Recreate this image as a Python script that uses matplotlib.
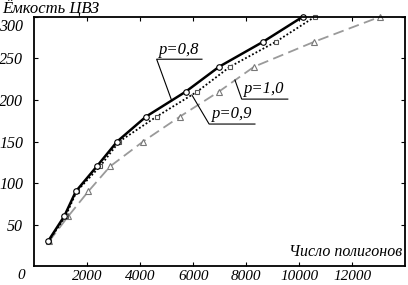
import numpy as np
import matplotlib
matplotlib.use("Agg")
import matplotlib.pyplot as plt
import matplotlib.transforms as mtransforms

# Ёмкость ЦВЗ (общая для всех кривых)
capacity = [30, 60, 90, 120, 150, 180, 210, 240, 270, 300]
# Число полигонов для разных p
poly_p08 = [520, 1130, 1570, 2360, 3130, 4220, 5720, 6980, 8640, 10130]
poly_p09 = [540, 1180, 1600, 2480, 3210, 4620, 6150, 7390, 9120, 10590]
poly_p10 = [560, 1280, 2040, 2860, 4110, 5500, 6970, 8300, 10570, 13050]

xticks = [2000, 4000, 6000, 8000, 10000, 12000]
yticks = [50, 100, 150, 200, 250, 300]

plt.rcParams['font.family'] = ['Liberation Serif', 'DejaVu Serif']
plt.rcParams['font.style'] = 'italic'

fig = plt.figure(figsize=(4.08, 2.85), dpi=100)
ax = fig.add_axes([0.084, 0.066, 0.909, 0.875])

ax.plot(poly_p10, capacity, color='#9a9a9a', lw=1.3, dashes=(6, 3),
        marker='^', ms=4, mfc='white', mec='#777777', mew=0.8, clip_on=False)
ax.plot(poly_p09, capacity, color='black', lw=1.3, dashes=(1, 1.2),
        marker='s', ms=3.5, mfc='white', mec='#555555', mew=0.8, clip_on=False)
ax.plot(poly_p08, capacity, color='black', lw=1.8,
        marker='o', ms=4, mfc='white', mec='black', mew=0.8, clip_on=False)

ax.set_xlim(0, 14000)
ax.set_ylim(0, 300)
ax.set_xticks(xticks)
ax.set_yticks(yticks)
ax.tick_params(direction='in', length=3, width=0.8, top=True, right=True,
               labelsize=11.5)
ax.tick_params(axis='x', pad=2.5, labelsize=11)
ax.tick_params(axis='y', pad=8)
for s in ax.spines.values():
    s.set_linewidth(1.3)

# метка 300 сдвинута вниз, чтобы не налезать на подпись оси
fig.canvas.draw()
lab300 = ax.get_yticklabels()[-1]
lab300.set_transform(lab300.get_transform() +
                     mtransforms.ScaledTranslation(0, -6 / 72, fig.dpi_scale_trans))

# подписи кривых с выносками
labels = [("p=0,8", 4620, 6330, 249, 5190, 199),
          ("p=0,9", 6600, 8330, 171, 5950, 206),
          ("p=1,0", 7830, 9570, 201, 7575, 224)]
for txt, x0, x1, yl, xp, yp in labels:
    ax.plot([xp, x0, x1], [yp, yl, yl], color='black', lw=0.8)
    ax.text(x0 + 100, yl + 2, txt, fontsize=12, ha='left', va='bottom')

ax.text(13900, 8, "Число полигонов", fontsize=11.5, ha='right', va='bottom')
fig.text(0.005, 0.955, "Ёмкость ЦВЗ", fontsize=12, ha='left', va='baseline')
fig.text(0.052, 0.012, "0", fontsize=11, ha='center', va='bottom')

fig.savefig("out.png", dpi=100)
